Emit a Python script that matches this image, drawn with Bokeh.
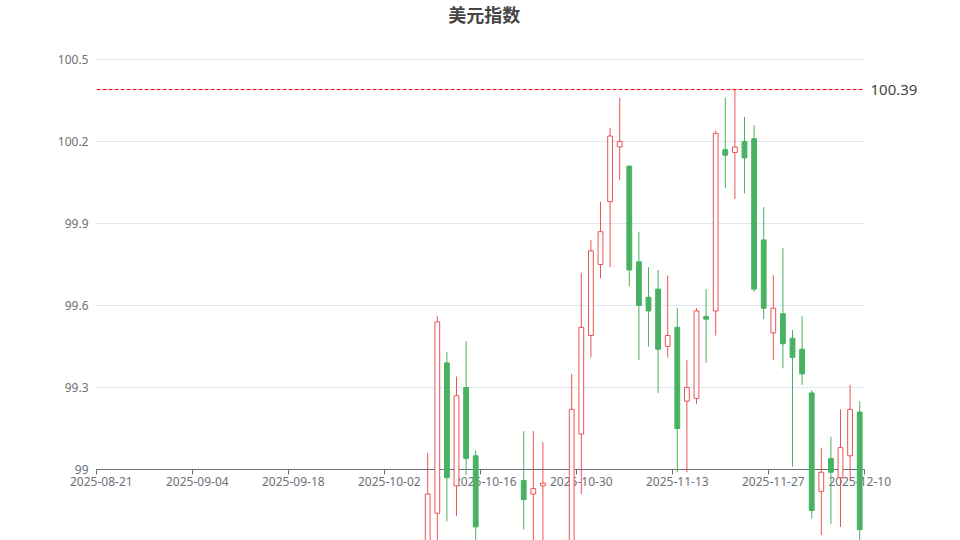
import math
import pandas as pd
from bokeh.plotting import figure
from bokeh.models import (ColumnDataSource, Range1d, FixedTicker,
                          PrintfTickFormatter, Label)
from bokeh.embed import file_html
from bokeh.resources import INLINE

# trading days shown on the category axis
dates = pd.bdate_range("2025-08-21", periods=80).strftime("%Y-%m-%d").tolist()

opens = [98.22, 98.62, 97.72, 98.43, 98.23, 98.22, 97.80, 97.77, 97.66, 98.40,
         98.13, 98.25, 97.74, 97.43, 97.80, 97.77, 97.54, 97.55, 97.30, 96.63,
         96.87, 97.35, 97.65, 97.33, 97.25, 97.86, 98.55, 98.17, 97.94, 97.78,
         97.70, 97.85, 97.72, 98.10, 98.62, 98.84, 99.39, 98.94, 99.30, 99.05,
         98.72, 98.35, 98.55, 98.60, 98.96, 98.91, 98.94, 98.70, 98.60, 98.68,
         99.13, 99.49, 99.75, 99.98, 100.18, 100.11, 99.76, 99.63, 99.66, 99.45,
         99.52, 99.25, 99.26, 99.56, 99.58, 100.17, 100.16, 100.20, 100.21, 99.84,
         99.50, 99.57, 99.48, 99.44, 99.28, 98.92, 99.04, 98.97, 99.05, 99.21]
highs = [98.70, 98.70, 98.45, 98.48, 98.50, 98.35, 98.05, 97.85, 98.45, 98.42,
         98.40, 98.30, 97.85, 97.85, 97.90, 98.00, 97.70, 97.60, 97.35, 97.20,
         97.50, 97.75, 97.70, 97.40, 97.90, 98.60, 98.60, 98.20, 97.95, 97.85,
         97.90, 97.95, 98.15, 98.65, 99.06, 99.56, 99.43, 99.34, 99.47, 99.07,
         98.70, 98.65, 98.68, 98.70, 99.14, 99.14, 99.10, 98.72, 98.70, 99.35,
         99.72, 99.84, 99.98, 100.25, 100.36, 100.11, 99.87, 99.74, 99.73, 99.71,
         99.59, 99.40, 99.59, 99.66, 100.24, 100.36, 100.39, 100.29, 100.26, 99.96,
         99.71, 99.81, 99.51, 99.56, 99.29, 99.08, 99.12, 99.22, 99.31, 99.25]
lows = [98.20, 97.60, 97.70, 98.10, 98.15, 97.75, 97.70, 97.55, 97.60, 98.05,
        98.05, 97.45, 97.30, 97.25, 97.60, 97.50, 97.35, 97.20, 96.60, 96.22,
        96.80, 97.30, 97.25, 97.10, 97.20, 97.85, 98.10, 97.85, 97.55, 97.40,
        97.55, 97.60, 97.70, 98.05, 98.58, 98.70, 98.81, 98.83, 98.98, 98.68,
        98.30, 98.30, 98.45, 98.50, 98.78, 98.70, 98.68, 98.55, 98.50, 98.62,
        98.91, 99.41, 99.70, 99.74, 100.06, 99.67, 99.40, 99.45, 99.28, 99.41,
        98.99, 98.99, 99.24, 99.39, 99.49, 100.03, 99.99, 100.01, 99.65, 99.55,
        99.40, 99.37, 99.01, 99.31, 98.82, 98.76, 98.80, 98.79, 98.96, 98.74]
closes = [98.62, 97.72, 98.43, 98.23, 98.22, 97.80, 97.77, 97.66, 98.40, 98.13,
          98.25, 97.74, 97.43, 97.80, 97.77, 97.54, 97.55, 97.30, 96.63, 96.87,
          97.35, 97.65, 97.33, 97.25, 97.86, 98.55, 98.17, 97.94, 97.78, 97.70,
          97.85, 97.72, 98.10, 98.58, 98.91, 99.54, 98.97, 99.27, 99.04, 98.79,
          98.35, 98.55, 98.60, 98.68, 98.89, 98.93, 98.95, 98.60, 98.65, 99.22,
          99.52, 99.80, 99.87, 100.22, 100.20, 99.73, 99.60, 99.58, 99.44, 99.49,
          99.15, 99.30, 99.58, 99.55, 100.23, 100.15, 100.18, 100.14, 99.66, 99.59,
          99.59, 99.46, 99.41, 99.35, 98.85, 98.99, 98.99, 99.08, 99.22, 98.78]

y_ticks = [99, 99.3, 99.6, 99.9, 100.2, 100.5]
tick_index = [0, 10, 20, 30, 40, 50, 60, 70, 79]
tick_labels = [dates[i] for i in tick_index]
mark_value = max(highs)

UP = "#eb5454"
DOWN = "#47b262"
AXIS = "#6E7079"
GRID = "#E0E6F1"

n = len(dates)
x_lo, x_hi = -0.5, n - 0.5          # category band edges
y_lo, y_hi = y_ticks[0], y_ticks[-1]

idx = list(range(n))
is_up = [c >= o for o, c in zip(opens, closes)]
source = ColumnDataSource(dict(
    x=idx, date=dates, open=opens, high=highs, low=lows, close=closes,
    top=[max(o, c) for o, c in zip(opens, closes)],
    bottom=[min(o, c) for o, c in zip(opens, closes)],
    color=[UP if u else DOWN for u in is_up],
    fill=["#ffffff" if u else DOWN for u in is_up],
))

# frame runs past the grid so that labels at the edges are not cut off;
# 9.6 px per category, 273.33 px per index point
p = figure(width=960, height=540,
           x_range=Range1d(-5.5, 89.5),
           y_range=Range1d(98.7402, 100.7159),
           x_axis_location=None,
           output_backend="svg", toolbar_location=None,
           min_border_left=48, min_border_right=0,
           min_border_top=0, min_border_bottom=0)
p.outline_line_color = None
p.xgrid.visible = False
p.ygrid.visible = False

# y axis: labels only, pinned to the grid's left edge
p.yaxis.fixed_location = x_lo
p.yaxis.ticker = FixedTicker(ticks=y_ticks)
p.yaxis.formatter = PrintfTickFormatter(format="%g")
p.yaxis.axis_line_color = None
p.yaxis.major_tick_line_color = None
p.yaxis.minor_tick_line_color = None
p.yaxis.major_tick_out = 0
p.yaxis.minor_tick_out = 0
p.yaxis.major_label_standoff = 8
p.yaxis.major_label_text_font = "Noto Sans"
p.yaxis.major_label_text_font_size = "12px"
p.yaxis.major_label_text_color = AXIS

# horizontal grid lines
p.segment(x0=[x_lo] * len(y_ticks), y0=y_ticks, x1=[x_hi] * len(y_ticks),
          y1=y_ticks, line_color=GRID, line_width=1, level="underlay")

# category axis drawn at 99, like the original
p.segment(x0=[x_lo], y0=[y_lo], x1=[x_hi], y1=[y_lo], line_color=AXIS,
          line_width=1, level="underlay")
tick_x = [i - 0.5 for i in tick_index[:-1]] + [x_hi]
p.ray(x=tick_x, y=[y_lo] * len(tick_x), length=5, length_units="screen",
      angle=-math.pi / 2, line_color=AXIS, line_width=1, level="underlay")
for i, lab in zip(tick_index, tick_labels):
    p.add_layout(Label(x=i, y=y_lo, text=lab, text_align="center",
                       text_baseline="top", y_offset=-8,
                       text_font="Noto Sans", text_font_size="12px",
                       text_color=AXIS, level="underlay"))

# title
p.add_layout(Label(x=39.9, y=100.668, text="美元指数", text_align="center",
                   text_baseline="middle", text_font="Noto Sans CJK SC",
                   text_font_size="18px", text_font_style="bold",
                   text_color="#464646"))

# candles
p.segment(x0="x", y0="high", x1="x", y1="low", line_color="color",
          line_width=1, source=source)
p.vbar(x="x", width=0.5, top="top", bottom="bottom", fill_color="fill",
       line_color="color", line_width=1, source=source)

# max line
p.segment(x0=[x_lo], y0=[mark_value], x1=[x_hi], y1=[mark_value],
          line_color="#ff0000", line_width=1, line_dash="4 2")
p.add_layout(Label(x=x_hi, y=mark_value, text=f"{mark_value:.2f}",
                   x_offset=6, text_baseline="middle", text_font="Noto Sans",
                   text_font_size="15px", text_color="#464646"))

open("out.html", "w").write(file_html(p, INLINE))
